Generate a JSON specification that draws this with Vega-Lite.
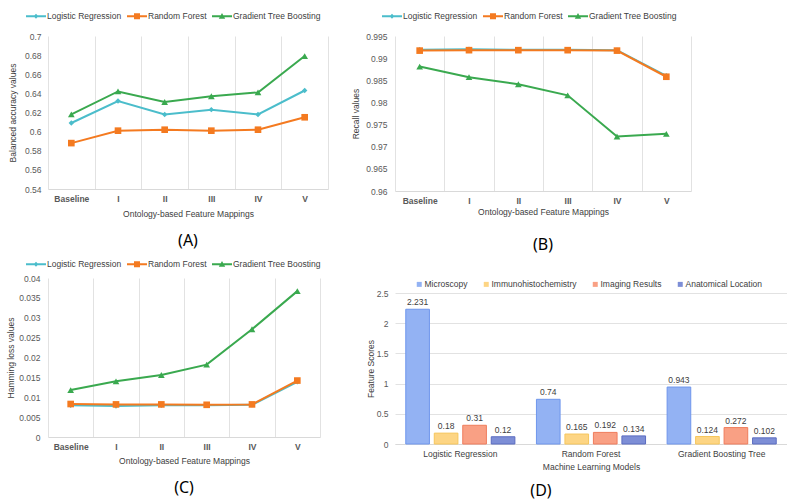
{
  "$schema": "https://vega.github.io/schema/vega-lite/v6.json",
  "padding": {"left": 6, "top": 6, "right": 0, "bottom": 6},
  "spacing": 23,
  "columns": 2,
  "align": "none",
  "resolve": {"scale": {"color": "independent", "shape": "independent", "fill": "independent", "stroke": "independent"}, "legend": {"color": "independent", "shape": "independent", "fill": "independent"}},
  "config": {
    "font": "Liberation Sans",
    "view": {"stroke": null},
    "axis": {"labelFont": "Liberation Sans", "labelFontSize": 8.5, "labelColor": "#595959", "titleFont": "Liberation Sans", "titleFontSize": 8.5, "titleFontWeight": "normal", "titleColor": "#404040", "ticks": false, "tickSize": 0, "domainColor": "#d9d9d9", "gridColor": "#e2e2e2"},
    "legend": {"labelFont": "Liberation Sans", "labelFontSize": 8.5, "labelColor": "#404040", "padding": 0},
    "title": {"font": "Noto Sans", "fontSize": 16, "fontWeight": "normal", "color": "#000000"}
  },
  "datasets": {
    "lines": [
      {"metric": "ba", "mapping": "Baseline", "model": "Logistic Regression", "value": 0.609},
      {"metric": "ba", "mapping": "I", "model": "Logistic Regression", "value": 0.632},
      {"metric": "ba", "mapping": "II", "model": "Logistic Regression", "value": 0.618},
      {"metric": "ba", "mapping": "III", "model": "Logistic Regression", "value": 0.623},
      {"metric": "ba", "mapping": "IV", "model": "Logistic Regression", "value": 0.618},
      {"metric": "ba", "mapping": "V", "model": "Logistic Regression", "value": 0.643},
      {"metric": "ba", "mapping": "Baseline", "model": "Random Forest", "value": 0.588},
      {"metric": "ba", "mapping": "I", "model": "Random Forest", "value": 0.601},
      {"metric": "ba", "mapping": "II", "model": "Random Forest", "value": 0.602},
      {"metric": "ba", "mapping": "III", "model": "Random Forest", "value": 0.601},
      {"metric": "ba", "mapping": "IV", "model": "Random Forest", "value": 0.602},
      {"metric": "ba", "mapping": "V", "model": "Random Forest", "value": 0.615},
      {"metric": "ba", "mapping": "Baseline", "model": "Gradient Tree Boosting", "value": 0.618},
      {"metric": "ba", "mapping": "I", "model": "Gradient Tree Boosting", "value": 0.642},
      {"metric": "ba", "mapping": "II", "model": "Gradient Tree Boosting", "value": 0.631},
      {"metric": "ba", "mapping": "III", "model": "Gradient Tree Boosting", "value": 0.637},
      {"metric": "ba", "mapping": "IV", "model": "Gradient Tree Boosting", "value": 0.641},
      {"metric": "ba", "mapping": "V", "model": "Gradient Tree Boosting", "value": 0.679},
      {"metric": "recall", "mapping": "Baseline", "model": "Logistic Regression", "value": 0.9919},
      {"metric": "recall", "mapping": "I", "model": "Logistic Regression", "value": 0.9920},
      {"metric": "recall", "mapping": "II", "model": "Logistic Regression", "value": 0.9919},
      {"metric": "recall", "mapping": "III", "model": "Logistic Regression", "value": 0.9919},
      {"metric": "recall", "mapping": "IV", "model": "Logistic Regression", "value": 0.9918},
      {"metric": "recall", "mapping": "V", "model": "Logistic Regression", "value": 0.9860},
      {"metric": "recall", "mapping": "Baseline", "model": "Random Forest", "value": 0.9917},
      {"metric": "recall", "mapping": "I", "model": "Random Forest", "value": 0.9918},
      {"metric": "recall", "mapping": "II", "model": "Random Forest", "value": 0.9918},
      {"metric": "recall", "mapping": "III", "model": "Random Forest", "value": 0.9918},
      {"metric": "recall", "mapping": "IV", "model": "Random Forest", "value": 0.9917},
      {"metric": "recall", "mapping": "V", "model": "Random Forest", "value": 0.9858},
      {"metric": "recall", "mapping": "Baseline", "model": "Gradient Tree Boosting", "value": 0.9881},
      {"metric": "recall", "mapping": "I", "model": "Gradient Tree Boosting", "value": 0.9857},
      {"metric": "recall", "mapping": "II", "model": "Gradient Tree Boosting", "value": 0.9841},
      {"metric": "recall", "mapping": "III", "model": "Gradient Tree Boosting", "value": 0.9816},
      {"metric": "recall", "mapping": "IV", "model": "Gradient Tree Boosting", "value": 0.9723},
      {"metric": "recall", "mapping": "V", "model": "Gradient Tree Boosting", "value": 0.9729},
      {"metric": "hl", "mapping": "Baseline", "model": "Logistic Regression", "value": 0.0080},
      {"metric": "hl", "mapping": "I", "model": "Logistic Regression", "value": 0.0078},
      {"metric": "hl", "mapping": "II", "model": "Logistic Regression", "value": 0.0080},
      {"metric": "hl", "mapping": "III", "model": "Logistic Regression", "value": 0.0080},
      {"metric": "hl", "mapping": "IV", "model": "Logistic Regression", "value": 0.0081},
      {"metric": "hl", "mapping": "V", "model": "Logistic Regression", "value": 0.0139},
      {"metric": "hl", "mapping": "Baseline", "model": "Random Forest", "value": 0.0083},
      {"metric": "hl", "mapping": "I", "model": "Random Forest", "value": 0.0082},
      {"metric": "hl", "mapping": "II", "model": "Random Forest", "value": 0.0082},
      {"metric": "hl", "mapping": "III", "model": "Random Forest", "value": 0.0081},
      {"metric": "hl", "mapping": "IV", "model": "Random Forest", "value": 0.0082},
      {"metric": "hl", "mapping": "V", "model": "Random Forest", "value": 0.0142},
      {"metric": "hl", "mapping": "Baseline", "model": "Gradient Tree Boosting", "value": 0.0118},
      {"metric": "hl", "mapping": "I", "model": "Gradient Tree Boosting", "value": 0.0140},
      {"metric": "hl", "mapping": "II", "model": "Gradient Tree Boosting", "value": 0.0156},
      {"metric": "hl", "mapping": "III", "model": "Gradient Tree Boosting", "value": 0.0182},
      {"metric": "hl", "mapping": "IV", "model": "Gradient Tree Boosting", "value": 0.0271},
      {"metric": "hl", "mapping": "V", "model": "Gradient Tree Boosting", "value": 0.0367}
    ],
    "bars": [
      {"model": "Logistic Regression", "feature": "Microscopy", "score": 2.231},
      {"model": "Logistic Regression", "feature": "Immunohistochemistry", "score": 0.18},
      {"model": "Logistic Regression", "feature": "Imaging Results", "score": 0.31},
      {"model": "Logistic Regression", "feature": "Anatomical Location", "score": 0.12},
      {"model": "Random Forest", "feature": "Microscopy", "score": 0.74},
      {"model": "Random Forest", "feature": "Immunohistochemistry", "score": 0.165},
      {"model": "Random Forest", "feature": "Imaging Results", "score": 0.192},
      {"model": "Random Forest", "feature": "Anatomical Location", "score": 0.134},
      {"model": "Gradient Boosting Tree", "feature": "Microscopy", "score": 0.943},
      {"model": "Gradient Boosting Tree", "feature": "Immunohistochemistry", "score": 0.124},
      {"model": "Gradient Boosting Tree", "feature": "Imaging Results", "score": 0.272},
      {"model": "Gradient Boosting Tree", "feature": "Anatomical Location", "score": 0.102}
    ]
  },
  "concat": [
    {
      "spacing": 5,
      "columns": 1,
      "align": "none",
      "resolve": {"scale": {"color": "independent", "shape": "independent"}, "legend": {"color": "independent", "shape": "independent"}},
      "concat": [
        {
          "data": {"name": "lines"},
          "transform": [{"filter": "datum.metric == 'ba'"}],
          "width": 280, "height": 153,
          "title": {"text": "(A)", "orient": "bottom", "offset": 15},
          "encoding": {
            "x": {"field": "mapping", "type": "ordinal", "sort": ["Baseline", "I", "II", "III", "IV", "V"], "scale": {"type": "band", "paddingInner": 0, "paddingOuter": 0},
              "axis": {"title": "Ontology-based Feature Mappings", "labelAngle": 0, "tickBand": "extent", "grid": true, "labelPadding": 5, "titlePadding": 7, "labelFontWeight": "bold"}},
            "y": {"field": "value", "type": "quantitative", "scale": {"domain": [0.54, 0.7], "zero": false, "nice": false},
              "axis": {"title": "Balanced accuracy values", "grid": false, "domain": false, "format": "~g", "values": [0.54, 0.56, 0.58, 0.6, 0.62, 0.64, 0.66, 0.68, 0.7], "labelPadding": 7, "titlePadding": 7}},
            "color": {"field": "model", "type": "nominal", "scale": {"domain": ["Logistic Regression", "Random Forest", "Gradient Tree Boosting"], "range": ["#4bbdcb", "#f47a20", "#3aa94f"]},
              "legend": {"title": null, "orient": "none", "legendX": -22, "legendY": -30, "direction": "horizontal", "symbolSize": 400, "symbolStrokeWidth": 0, "symbolOpacity": 1, "labelOffset": 1, "columnPadding": 5}}
          },
          "layer": [
            {"mark": {"type": "line", "strokeWidth": 2}},
            {"transform": [{"filter": "false"}], "mark": {"type": "point", "filled": true, "opacity": 1},
              "encoding": {"shape": {"field": "model", "type": "nominal", "scale": {"domain": ["Logistic Regression", "Random Forest", "Gradient Tree Boosting"], "range": ["M-1,-0.09H1V0.09H-1Z M0,-0.24L0.24,0L0,0.24L-0.24,0Z", "M-1,-0.09H1V0.09H-1Z M-0.3,-0.3H0.3V0.3H-0.3Z", "M-1,-0.09H1V0.09H-1Z M0,-0.32L0.32,0.24H-0.32Z"]},
                "legend": {"title": null, "orient": "none", "legendX": -22, "legendY": -30, "direction": "horizontal", "symbolSize": 400, "symbolStrokeWidth": 0, "symbolOpacity": 1, "labelOffset": 1, "columnPadding": 5}}}},
            {"transform": [{"filter": "datum.model == 'Logistic Regression'"}], "mark": {"type": "point", "filled": true, "opacity": 1, "shape": "diamond", "size": 30}},
            {"transform": [{"filter": "datum.model == 'Random Forest'"}], "mark": {"type": "point", "filled": true, "opacity": 1, "shape": "square", "size": 44}},
            {"transform": [{"filter": "datum.model == 'Gradient Tree Boosting'"}], "mark": {"type": "point", "filled": true, "opacity": 1, "shape": "triangle-up", "size": 45}}
          ]
        },
        {
          "data": {"name": "lines"},
          "transform": [{"filter": "datum.metric == 'hl'"}],
          "width": 272, "height": 159,
          "title": {"text": "(C)", "orient": "bottom", "offset": 15},
          "encoding": {
            "x": {"field": "mapping", "type": "ordinal", "sort": ["Baseline", "I", "II", "III", "IV", "V"], "scale": {"type": "band", "paddingInner": 0, "paddingOuter": 0},
              "axis": {"title": "Ontology-based Feature Mappings", "labelAngle": 0, "tickBand": "extent", "grid": true, "labelPadding": 5, "titlePadding": 6, "labelFontWeight": "bold"}},
            "y": {"field": "value", "type": "quantitative", "scale": {"domain": [0, 0.04], "zero": false, "nice": false},
              "axis": {"title": "Hamming loss values", "grid": false, "domain": false, "format": "~g", "values": [0, 0.005, 0.01, 0.015, 0.02, 0.025, 0.03, 0.035, 0.04], "labelPadding": 8, "titlePadding": 3}},
            "color": {"field": "model", "type": "nominal", "scale": {"domain": ["Logistic Regression", "Random Forest", "Gradient Tree Boosting"], "range": ["#4bbdcb", "#f47a20", "#3aa94f"]},
              "legend": {"title": null, "orient": "none", "legendX": -22, "legendY": -24, "direction": "horizontal", "symbolSize": 400, "symbolStrokeWidth": 0, "symbolOpacity": 1, "labelOffset": 1, "columnPadding": 5}}
          },
          "layer": [
            {"mark": {"type": "line", "strokeWidth": 2}},
            {"transform": [{"filter": "false"}], "mark": {"type": "point", "filled": true, "opacity": 1},
              "encoding": {"shape": {"field": "model", "type": "nominal", "scale": {"domain": ["Logistic Regression", "Random Forest", "Gradient Tree Boosting"], "range": ["M-1,-0.09H1V0.09H-1Z M0,-0.24L0.24,0L0,0.24L-0.24,0Z", "M-1,-0.09H1V0.09H-1Z M-0.3,-0.3H0.3V0.3H-0.3Z", "M-1,-0.09H1V0.09H-1Z M0,-0.32L0.32,0.24H-0.32Z"]},
                "legend": {"title": null, "orient": "none", "legendX": -22, "legendY": -24, "direction": "horizontal", "symbolSize": 400, "symbolStrokeWidth": 0, "symbolOpacity": 1, "labelOffset": 1, "columnPadding": 5}}}},
            {"transform": [{"filter": "datum.model == 'Logistic Regression'"}], "mark": {"type": "point", "filled": true, "opacity": 1, "shape": "diamond", "size": 30}},
            {"transform": [{"filter": "datum.model == 'Random Forest'"}], "mark": {"type": "point", "filled": true, "opacity": 1, "shape": "square", "size": 44}},
            {"transform": [{"filter": "datum.model == 'Gradient Tree Boosting'"}], "mark": {"type": "point", "filled": true, "opacity": 1, "shape": "triangle-up", "size": 45}}
          ]
        }
      ]
    },
    {
      "spacing": 27,
      "columns": 1,
      "align": "none",
      "resolve": {"scale": {"color": "independent", "shape": "independent", "fill": "independent", "stroke": "independent"}, "legend": {"color": "independent", "shape": "independent", "fill": "independent"}},
      "concat": [
        {
          "data": {"name": "lines"},
          "transform": [{"filter": "datum.metric == 'recall'"}],
          "width": 296, "height": 155,
          "title": {"text": "(B)", "orient": "bottom", "offset": 21},
          "encoding": {
            "x": {"field": "mapping", "type": "ordinal", "sort": ["Baseline", "I", "II", "III", "IV", "V"], "scale": {"type": "band", "paddingInner": 0, "paddingOuter": 0},
              "axis": {"title": "Ontology-based Feature Mappings", "labelAngle": 0, "tickBand": "extent", "grid": true, "labelPadding": 5, "titlePadding": 3, "labelFontWeight": "bold"}},
            "y": {"field": "value", "type": "quantitative", "scale": {"domain": [0.96, 0.995], "zero": false, "nice": false},
              "axis": {"title": "Recall values", "grid": false, "domain": false, "format": "~g", "values": [0.96, 0.965, 0.97, 0.975, 0.98, 0.985, 0.99, 0.995], "labelPadding": 8, "titlePadding": 5}},
            "color": {"field": "model", "type": "nominal", "scale": {"domain": ["Logistic Regression", "Random Forest", "Gradient Tree Boosting"], "range": ["#4bbdcb", "#f47a20", "#3aa94f"]},
              "legend": {"title": null, "orient": "none", "legendX": -13, "legendY": -30, "direction": "horizontal", "symbolSize": 400, "symbolStrokeWidth": 0, "symbolOpacity": 1, "labelOffset": 1, "columnPadding": 5}}
          },
          "layer": [
            {"mark": {"type": "line", "strokeWidth": 2}},
            {"transform": [{"filter": "false"}], "mark": {"type": "point", "filled": true, "opacity": 1},
              "encoding": {"shape": {"field": "model", "type": "nominal", "scale": {"domain": ["Logistic Regression", "Random Forest", "Gradient Tree Boosting"], "range": ["M-1,-0.09H1V0.09H-1Z M0,-0.24L0.24,0L0,0.24L-0.24,0Z", "M-1,-0.09H1V0.09H-1Z M-0.3,-0.3H0.3V0.3H-0.3Z", "M-1,-0.09H1V0.09H-1Z M0,-0.32L0.32,0.24H-0.32Z"]},
                "legend": {"title": null, "orient": "none", "legendX": -13, "legendY": -30, "direction": "horizontal", "symbolSize": 400, "symbolStrokeWidth": 0, "symbolOpacity": 1, "labelOffset": 1, "columnPadding": 5}}}},
            {"transform": [{"filter": "datum.model == 'Logistic Regression'"}], "mark": {"type": "point", "filled": true, "opacity": 1, "shape": "diamond", "size": 30}},
            {"transform": [{"filter": "datum.model == 'Random Forest'"}], "mark": {"type": "point", "filled": true, "opacity": 1, "shape": "square", "size": 44}},
            {"transform": [{"filter": "datum.model == 'Gradient Tree Boosting'"}], "mark": {"type": "point", "filled": true, "opacity": 1, "shape": "triangle-up", "size": 45}}
          ]
        },
        {
          "data": {"name": "bars"},
          "width": 392, "height": 151,
          "title": {"text": "(D)", "orient": "bottom", "offset": 12, "dx": -50},
          "encoding": {
            "x": {"field": "model", "type": "nominal", "sort": ["Logistic Regression", "Random Forest", "Gradient Boosting Tree"], "scale": {"paddingInner": 0.165, "paddingOuter": 0.0825},
              "axis": {"title": "Machine Learning Models", "labelAngle": 0, "grid": false, "labelPadding": 5, "titlePadding": 5, "labelColor": "#404040"}},
            "xOffset": {"field": "feature", "type": "nominal", "sort": ["Microscopy", "Immunohistochemistry", "Imaging Results", "Anatomical Location"], "scale": {"paddingInner": 0.17, "paddingOuter": 0}},
            "y": {"field": "score", "type": "quantitative", "scale": {"domain": [0, 2.5], "nice": false},
              "axis": {"title": "Feature Scores", "grid": true, "domain": false, "format": "~g", "values": [0, 0.5, 1, 1.5, 2, 2.5], "labelPadding": 7, "titlePadding": 1}}
          },
          "layer": [
            {"mark": {"type": "bar", "strokeWidth": 1, "opacity": 1},
              "encoding": {
                "fill": {"field": "feature", "type": "nominal", "sort": ["Microscopy", "Immunohistochemistry", "Imaging Results", "Anatomical Location"],
                  "scale": {"domain": ["Microscopy", "Immunohistochemistry", "Imaging Results", "Anatomical Location"], "range": ["#93b2f3", "#fdd584", "#f9a084", "#7d8ed6"]},
                  "legend": {"title": null, "orient": "none", "legendX": 20, "legendY": -13, "direction": "horizontal", "symbolType": "square", "symbolSize": 25, "symbolStrokeWidth": 0, "labelOffset": 1, "columnPadding": 14}},
                "stroke": {"field": "feature", "type": "nominal",
                  "scale": {"domain": ["Microscopy", "Immunohistochemistry", "Imaging Results", "Anatomical Location"], "range": ["#6f96ec", "#f6c65c", "#ef7d5c", "#5b6cc0"]}, "legend": null}}},
            {"mark": {"type": "text", "dy": -7, "fontSize": 8.5, "color": "#404040"},
              "encoding": {"text": {"field": "score", "type": "quantitative", "format": "~g"}}}
          ]
        }
      ]
    }
  ]
}
